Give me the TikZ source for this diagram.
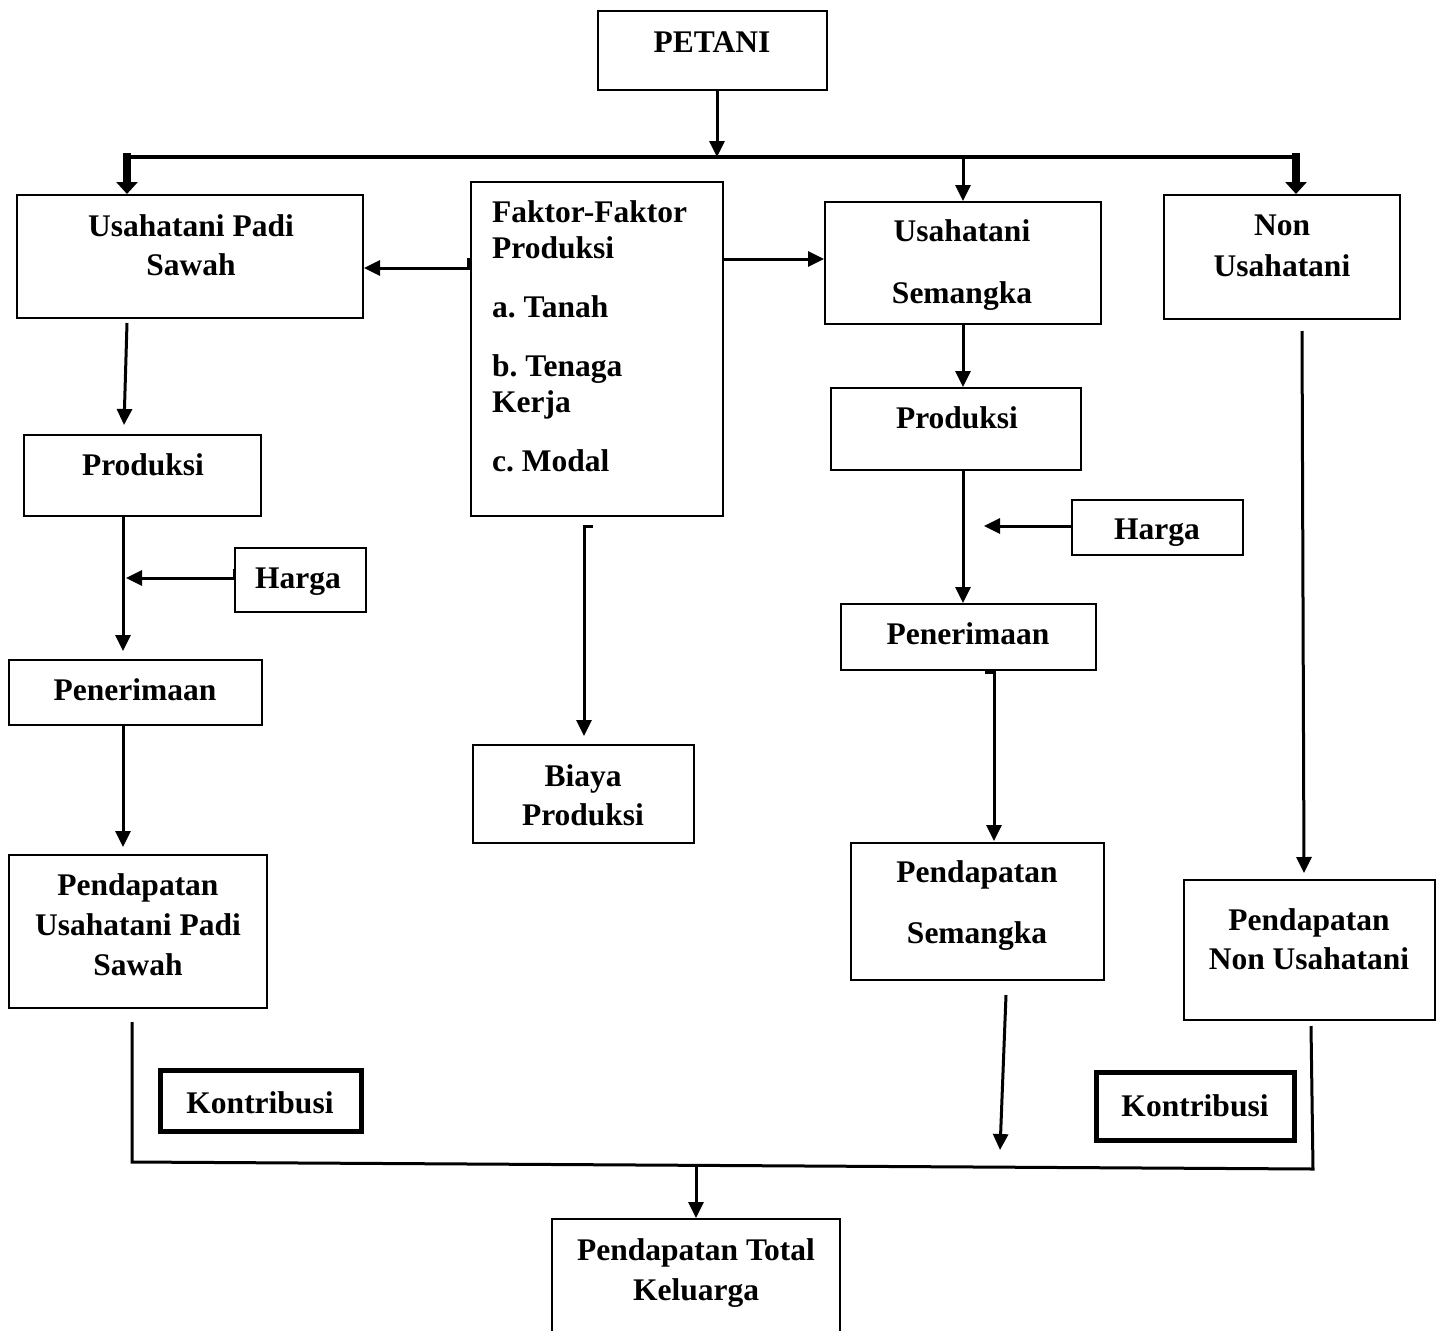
\documentclass[tikz,border=0pt]{standalone}
\usepackage{fontspec}
\setmainfont{Liberation Serif}
\usetikzlibrary{arrows.meta,calc}
\newcommand\mkbox[6][box]{\node[#1, minimum width={#5-#3}, minimum height={#6-#4}] (#2) at ({(#3+#5)/2},{(#4+#6)/2}) {};}
\frenchspacing
\begin{document}
\begin{tikzpicture}[x=1pt,y=-1pt,
  box/.style={draw, line width=2pt, rectangle, inner sep=0pt},
  kbox/.style={draw, line width=5pt, rectangle, inner sep=0pt},
  txt/.style={inner sep=0pt, align=center, font=\fontsize{31.5}{39}\selectfont\bfseries\frenchspacing},
  arr/.style={line width=3pt, -{Triangle[length=16pt,width=15pt]}},
  thickarr/.style={line width=8pt, -{Triangle[length=12pt,width=21pt]}},
  busline/.style={line width=4.5pt},
  joinline/.style={line width=3pt, line join=miter}
]
\fill[white] (0,0) rectangle (1437,1330);
\useasboundingbox (0,0) rectangle (1437,1330);

% boxes
\mkbox{petani}{598}{11}{827}{90}
\mkbox{padi}{17}{195}{363}{318}
\mkbox{faktor}{471}{182}{723}{516}
\mkbox{semangka}{825}{202}{1101}{324}
\mkbox{non}{1164}{195}{1400}{319}
\mkbox{prodL}{24}{435}{261}{516}
\mkbox{hargaL}{235}{548}{366}{612}
\mkbox{penL}{9}{660}{262}{725}
\mkbox{pendL}{9}{855}{267}{1008}
\mkbox{biaya}{473}{745}{694}{843}
\mkbox{prodR}{831}{388}{1081}{470}
\mkbox{hargaR}{1072}{500}{1243}{555}
\mkbox{penR}{841}{604}{1096}{670}
\mkbox{pendR}{851}{843}{1104}{980}
\mkbox{pendN}{1184}{880}{1435}{1020}
\mkbox[kbox]{kontL}{160}{1070}{361}{1131}
\mkbox[kbox]{kontR}{1096}{1072}{1294}{1140}
\mkbox{total}{552}{1219}{840}{1360}

% texts
\node[txt] (tpetani) at (712,42) {PETANI};
\node[txt] (tpadi) at (191,245) {Usahatani Padi\\Sawah};
\node[txt, align=left, anchor=west] (tfaktor) at (492,336) {Faktor-Faktor\\[-3pt]Produksi\\[20pt]a. Tanah\\[20pt]b. Tenaga\\[-3pt]Kerja\\[20pt]c. Modal};
\node[txt] (tsemangka) at (962,265) {Usahatani\\[23pt]Semangka};
\node[txt] (tnon) at (1282,246) {Non\\[2pt]Usahatani};
\node[txt] (tprodL) at (143,465) {Produksi};
\node[txt] (thargaL) at (298,582) {Harga};
\node[txt] (tpenL) at (135,690) {Penerimaan};
\node[txt] (tpendL) at (138,925) {Pendapatan\\[1pt]Usahatani Padi\\[1pt]Sawah};
\node[txt] (tbiaya) at (583,795) {Biaya\\Produksi};
\node[txt] (tprodR) at (957,418) {Produksi};
\node[txt] (thargaR) at (1157,533) {Harga};
\node[txt] (tpenR) at (968,634) {Penerimaan};
\node[txt] (tpendR) at (977,906) {Pendapatan\\[22pt]Semangka};
\node[txt] (tpendN) at (1309,939) {Pendapatan\\Non Usahatani};
\node[txt] (tkontL) at (260,1103) {Kontribusi};
\node[txt] (tkontR) at (1195,1106) {Kontribusi};
\node[txt] (ttotal) at (696,1273) {Pendapatan Total\\[1pt]Keluarga};

% top distribution
\coordinate (busL) at (127,157);
\coordinate (busR) at (1296,157);
\draw[busline] (busL) -- (busR);
\draw[arr] (petani.south -| 717,0) -- (busL -| 717,0);
\draw[thickarr] ($(busL)+(0,-4)$) -- (padi.north -| busL);
\draw[thickarr] ($(busR)+(0,-4)$) -- (non.north -| busR);
\draw[arr] (semangka.north |- busL) -- (semangka.north);

% factors
\draw[arr] ($(faktor.west |- 0,258)+(-2,0)$) -- ($(faktor.west |- 0,268)+(-2,0)$) -- (padi.east |- 0,268);
\draw[arr] (faktor.east |- 0,259) -- (semangka.west |- 0,259);
\draw[arr] ($(faktor.south -| 593,0)+(0,9)$) -- ($(faktor.south -| 584,0)+(0,9)$) -- ($(biaya.north -| 584,0)+(0,-8)$);

% left column
\draw[arr] ($(padi.south -| 127,0)+(0,4)$) -- ($(prodL.north -| 124,0)+(0,-9)$);
\draw[arr] (prodL.south -| 123,0) -- ($(penL.north -| 123,0)+(0,-8)$);
\coordinate (hLend) at (126,578);
\draw[arr] (hargaL.west |- 0,569) -- (hargaL.west |- 0,578) -- (hLend);
\draw[arr] (penL.south -| 123,0) -- ($(pendL.north -| 123,0)+(0,-7)$);

% right columns
\draw[arr] (semangka.south -| 963,0) -- (prodR.north -| 963,0);
\draw[arr] (prodR.south -| 963,0) -- (penR.north -| 963,0);
\coordinate (hRend) at (984,526);
\draw[arr] (hargaR.west |- 0,526) -- (hRend);
\draw[arr] ($(penR.south -| 985,0)+(0,1)$) -- ($(penR.south -| 994,0)+(0,1)$) -- ($(pendR.north -| 994,0)+(0,-1)$);
\coordinate (sEnd) at (1000,1150);
\draw[arr] ($(pendR.south -| 1006,0)+(0,14)$) -- (sEnd);
\draw[arr] ($(non.south -| 1302,0)+(0,11)$) -- ($(pendN.north -| 1304,0)+(0,-6)$);

% bottom join
\coordinate (jL) at (132,1162);
\coordinate (jR) at (1313,1169);
\draw[joinline] ($(pendL.south -| jL)+(0,13)$) -- (jL) -- (jR) -- ($(pendN.south -| 1311,0)+(0,5)$);
\coordinate (jM) at (696,1166);
\draw[arr] (jM) -- (total.north -| jM);
\end{tikzpicture}
\end{document}
